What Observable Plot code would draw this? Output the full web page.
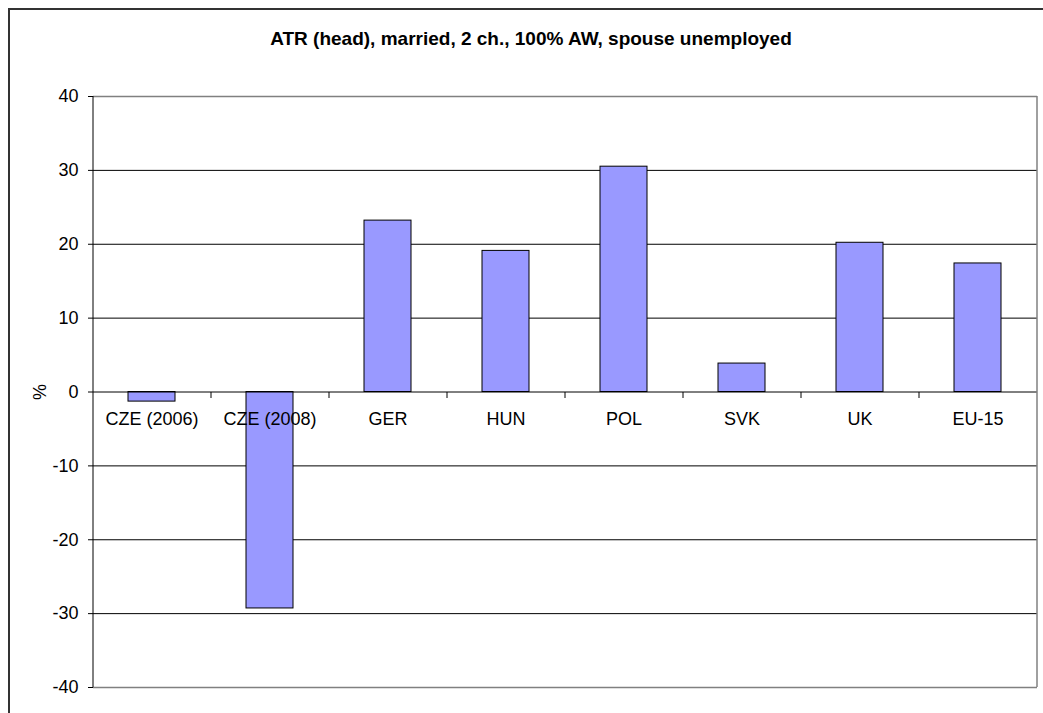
<!DOCTYPE html>
<html>
<head>
<meta charset="utf-8">
<script src="https://cdn.jsdelivr.net/npm/d3@7"></script>
<script src="https://cdn.jsdelivr.net/npm/@observablehq/plot@0.6"></script>
<style>
  html, body { margin: 0; padding: 0; background: #fff; overflow: hidden; }
  #wrap { position: relative; width: 1043px; height: 713px; }
  #border { position: absolute; left: 8px; top: 8px; width: 1100px; height: 800px; border: 2px solid #333; box-sizing: border-box; }
  #title { position: absolute; left: 0; width: 1062px; top: 28px; text-align: center; font: bold 19px "Liberation Sans", Arial, sans-serif; color: #000; white-space: nowrap; }
  #chart { position: absolute; left: 0; top: 0; }
</style>
</head>
<body>
<div id="wrap">
  <div id="border"></div>
  <div id="chart"></div>
  <div id="title">ATR (head), married, 2 ch., 100% AW, spouse unemployed</div>
</div>
<script>
const categories = ["CZE (2006)", "CZE (2008)", "GER", "HUN", "POL", "SVK", "UK", "EU-15"];
const values = [-1.3, -29.3, 23.2, 19.1, 30.5, 3.85, 20.2, 17.4];
const yTicks = [-40, -30, -20, -10, 0, 10, 20, 30, 40];
const yLabel = "%";

const data = categories.map((c, i) => ({ category: c, value: values[i] }));

const W = 1043, H = 713;
const mL = 93, mR = 6, mT = 96, mB = 26;
const step = (W - mL - mR) / categories.length;
const font = '"Liberation Sans", Arial, sans-serif';
const yMax = yTicks[yTicks.length - 1];

// a short downward tick used for category boundaries on the zero line
const downTick = { draw(ctx, size) { ctx.moveTo(0, 0); ctx.lineTo(0, 6); } };

const plot = Plot.plot({
  width: W,
  height: H,
  marginLeft: mL,
  marginRight: mR,
  marginTop: mT,
  marginBottom: mB,
  style: { fontFamily: font, fontSize: "18px", color: "#000", background: "transparent" },
  x: { domain: categories, paddingInner: 0.6, paddingOuter: 0.3, axis: null },
  y: { domain: [yTicks[0], yMax], axis: null },
  marks: [
    Plot.gridY(yTicks.filter(d => d !== 0 && d !== yMax && d !== yTicks[0]), { stroke: "#000", strokeOpacity: 1, strokeWidth: 1 }),
    Plot.gridY([yMax, yTicks[0]], { stroke: "#808080", strokeOpacity: 1, strokeWidth: 1.5 }),
    Plot.barY(data, { x: "category", y: "value", fill: "#9999FF", stroke: "#000", strokeWidth: 1 }),
    Plot.ruleY([0], { stroke: "#000", strokeWidth: 1 }),
    Plot.dot(categories.slice(1), { x: d => d, y: () => 0, dx: -step / 2, symbol: downTick, stroke: "#000", strokeWidth: 1, fill: "none", r: 3 }),
    Plot.text(categories, { x: d => d, y: () => 0, dy: 27, text: d => d, fontSize: 18, fill: "#000" }),
    Plot.ruleX([categories[categories.length - 1]], { x: d => d, dx: step / 2, stroke: "#808080", strokeWidth: 1.5 }),
    Plot.ruleX([categories[0]], { x: d => d, dx: -step / 2, stroke: "#000", strokeWidth: 1 }),
    Plot.axisY(yTicks, { tickSize: 5, tickPadding: 10, fontSize: 18, tickFormat: d => String(d), label: yLabel, labelAnchor: "center", labelOffset: 60, labelArrow: "none" })
  ]
});
document.getElementById("chart").appendChild(plot);
</script>
</body>
</html>
